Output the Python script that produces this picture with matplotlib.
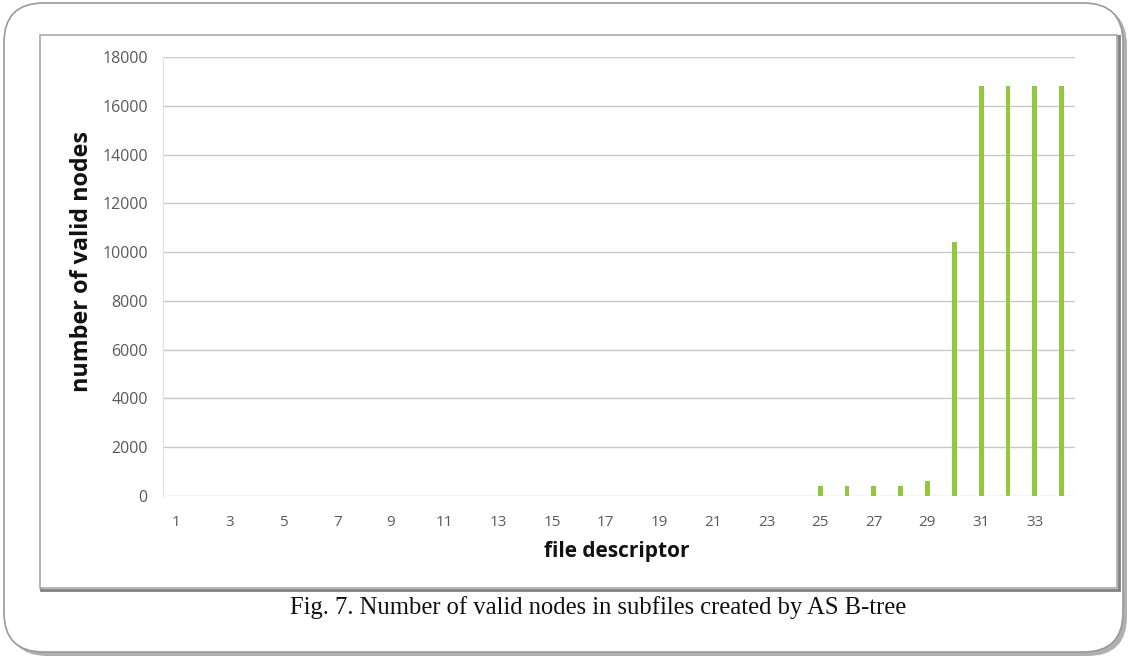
import matplotlib
matplotlib.use("Agg")
import matplotlib.pyplot as plt
from matplotlib.patches import FancyBboxPatch, Rectangle
import numpy as np

# Data
file_descriptors = list(range(1, 35))
valid_nodes = [0]*24 + [400, 400, 400, 400, 600, 10400, 16800, 16800, 16800, 16800]
y_ticks = list(range(0, 18001, 2000))
x_tick_labels = [str(i) for i in range(1, 35, 2)]

W, H = 1130, 657
fig = plt.figure(figsize=(W/100, H/100), dpi=100)
fig.patch.set_facecolor("white")

def fx(px): return px / W
def fy(py): return 1 - py / H

# Outer rounded frame with shadow
shadow = FancyBboxPatch((fx(8), fy(656)), fx(1119), fy(6) - fy(656),
                        boxstyle="round,pad=0,rounding_size=0.035",
                        transform=fig.transFigure, facecolor="#b0b0b0",
                        edgecolor="none", zorder=0, mutation_aspect=W/H)
fig.patches.append(shadow)
outer = FancyBboxPatch((fx(4), fy(652)), fx(1119), fy(3) - fy(652),
                       boxstyle="round,pad=0,rounding_size=0.035",
                       transform=fig.transFigure, facecolor="white",
                       edgecolor="#9a9a9a", linewidth=1.2, zorder=1, mutation_aspect=W/H)
fig.patches.append(outer)

# Inner chart rectangle
inner_shadow = Rectangle((fx(41), fy(590)), fx(1078), fy(36) - fy(590),
                         transform=fig.transFigure, facecolor="none",
                         edgecolor="#808080", linewidth=2.0, zorder=2)
fig.patches.append(inner_shadow)
inner = Rectangle((fx(40), fy(588)), fx(1077), fy(35) - fy(588),
                  transform=fig.transFigure, facecolor="white",
                  edgecolor="#a8a8a8", linewidth=1.2, zorder=3)
fig.patches.append(inner)

ax = fig.add_axes([fx(163), fy(496), fx(1075) - fx(163), fy(57) - fy(496)])
ax.set_zorder(5)
ax.patch.set_alpha(0)

ax.bar(file_descriptors, valid_nodes, width=0.18, color="#92c83e", zorder=3)

ax.set_ylim(0, 18000)
ax.set_xlim(0.5, 34.5)
ax.set_yticks(y_ticks)
ax.set_yticklabels([str(v) for v in y_ticks], fontsize=11.5, color="#5a5a5a", family="Open Sans")
ax.set_xticks(list(range(1, 35, 2)))
ax.set_xticklabels(x_tick_labels, fontsize=11, color="#5a5a5a", family="Open Sans")
ax.tick_params(axis="both", length=0)
ax.tick_params(axis="y", pad=11)
ax.tick_params(axis="x", pad=14)
ax.grid(axis="y", color="#c8c8c8", linewidth=1.0, zorder=0)
for s in ["top", "right", "bottom"]:
    ax.spines[s].set_visible(False)
ax.spines["left"].set_color("#e0e0e0")

fig.text(fx(82), fy(262), "number of valid nodes", rotation=90, ha="center", va="center",
         fontsize=16.8, fontweight="bold", family="Open Sans", color="#111111", zorder=10)
fig.text(fx(617), fy(551), "file descriptor", ha="center", va="center",
         fontsize=15, fontweight="bold", family="Open Sans", color="#111111", zorder=10)
fig.text(fx(598), fy(608), "Fig. 7. Number of valid nodes in subfiles created by AS B-tree",
         ha="center", va="center", fontsize=17.7, family="Liberation Serif", color="#111111", zorder=10)

fig.savefig("out.png", dpi=100)
